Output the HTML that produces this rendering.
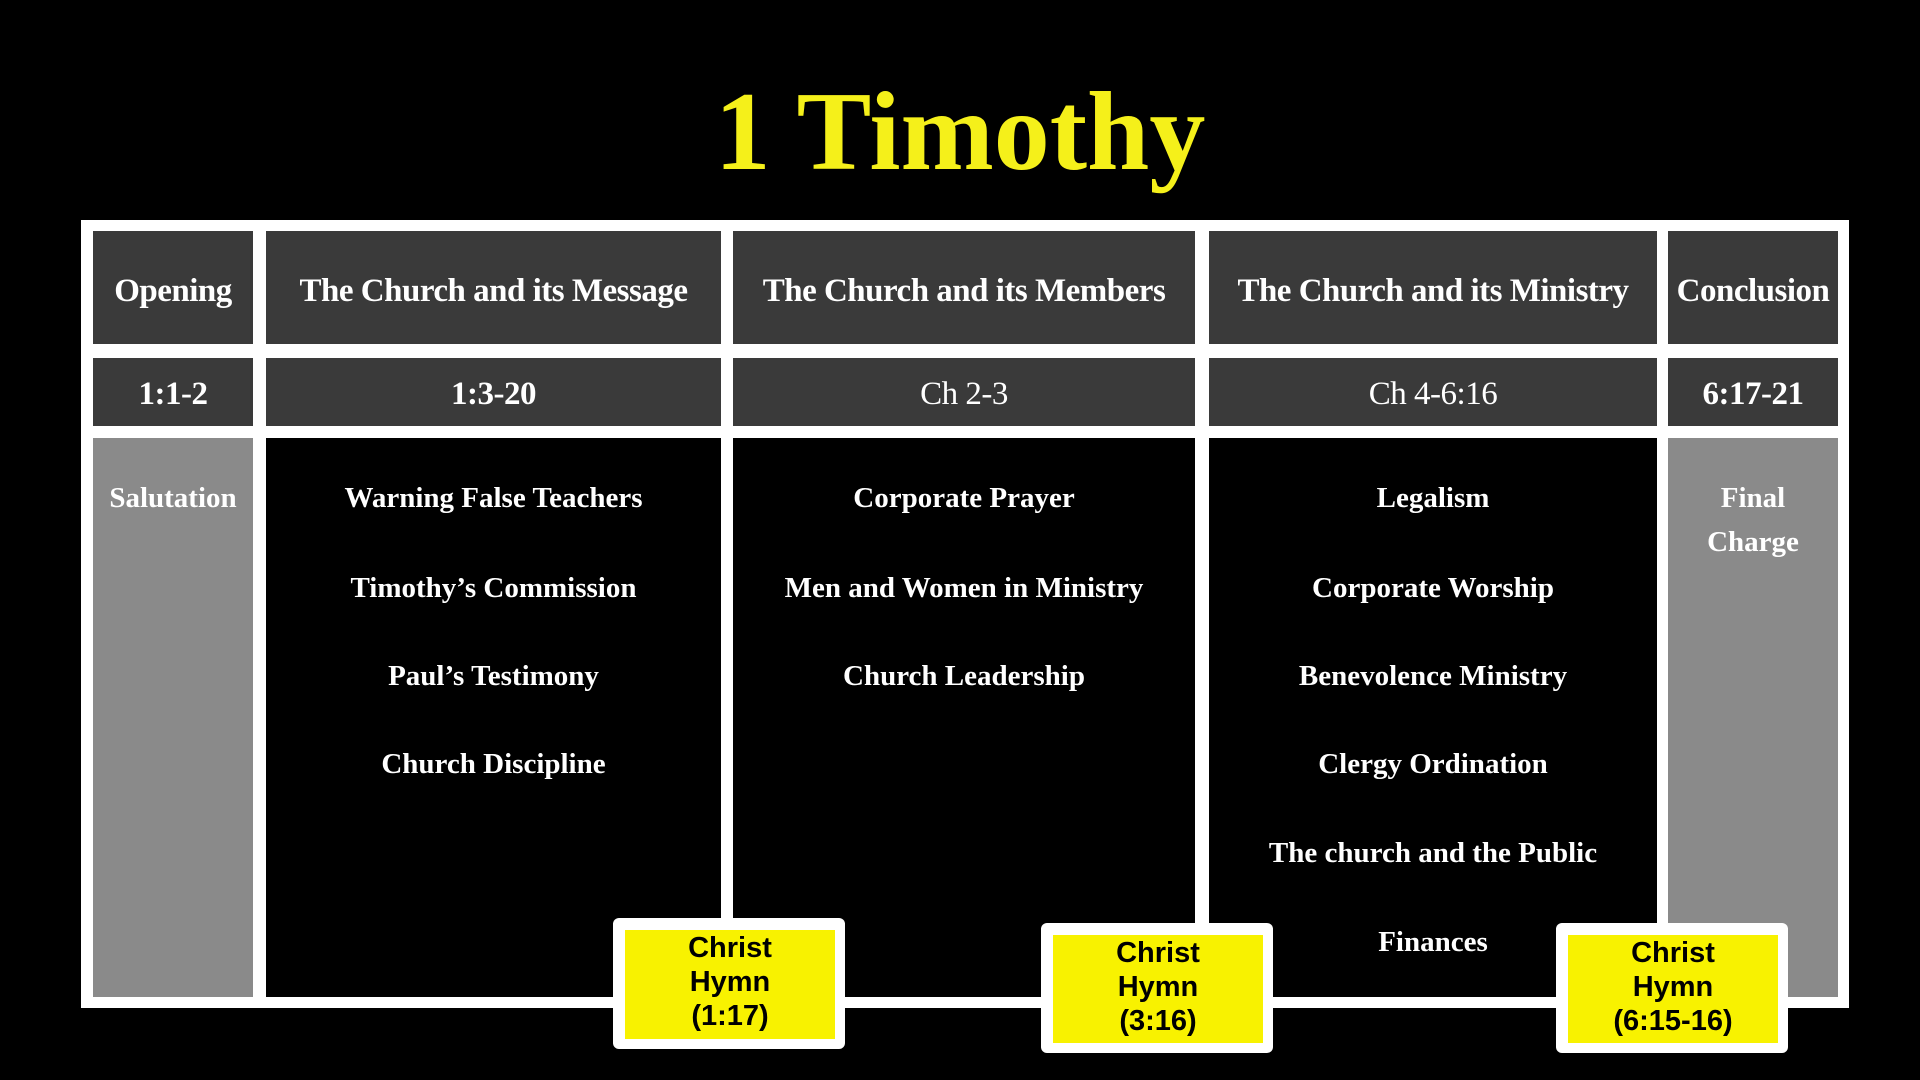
<!DOCTYPE html>
<html><head><meta charset="utf-8"><style>
body{margin:0;width:1920px;height:1080px;background:#000;position:relative;overflow:hidden;font-family:"Liberation Serif",serif;}
.t{position:absolute;left:0;width:1920px;top:72px;text-align:center;color:#f5f01a;font-weight:bold;font-size:112px;line-height:120px;}
.frame{position:absolute;left:81px;top:220px;width:1768px;height:788px;background:#fff;}
.c{position:absolute;box-sizing:border-box;color:#fff;font-weight:bold;text-align:center;white-space:nowrap;}
.h{background:#3a3a3a;font-size:33px;display:flex;align-items:center;justify-content:center;letter-spacing:-0.5px;padding-top:8px;}
.b{background:#000;font-size:29px;}
.g{background:#8a8a8a;font-size:29px;}
.b div,.g div{position:absolute;left:0;width:100%;line-height:36px;}
.hy{position:absolute;background:#fff;border-radius:6px;}
.hy div{position:absolute;left:12px;top:12px;right:10px;bottom:10px;background:#f8f200;color:#000;font-family:"Liberation Sans",sans-serif;font-weight:bold;font-size:29px;line-height:34px;text-align:center;padding-top:1px;box-sizing:border-box;}
</style></head><body>
<div class="t">1 Timothy</div>
<div class="frame"></div>
<div class="c h" style="left:93px;top:231px;width:160px;height:113px">Opening</div>
<div class="c h" style="left:266px;top:231px;width:455px;height:113px">The Church and its Message</div>
<div class="c h" style="left:733px;top:231px;width:462px;height:113px">The Church and its Members</div>
<div class="c h" style="left:1209px;top:231px;width:448px;height:113px">The Church and its Ministry</div>
<div class="c h" style="left:1668px;top:231px;width:170px;height:113px">Conclusion</div>
<div class="c h" style="left:93px;top:358px;width:160px;height:68px;padding-top:4px">1:1-2</div>
<div class="c h" style="left:266px;top:358px;width:455px;height:68px;padding-top:4px">1:3-20</div>
<div class="c h" style="left:733px;top:358px;width:462px;height:68px;padding-top:4px;font-weight:normal">Ch 2-3</div>
<div class="c h" style="left:1209px;top:358px;width:448px;height:68px;padding-top:4px;font-weight:normal">Ch 4-6:16</div>
<div class="c h" style="left:1668px;top:358px;width:170px;height:68px;padding-top:4px">6:17-21</div>
<div class="c g" style="left:93px;top:438px;width:160px;height:559px"><div style="top:42px">Salutation</div></div>
<div class="c b" style="left:266px;top:438px;width:455px;height:559px">
<div style="top:42px">Warning False Teachers</div><div style="top:132px">Timothy’s Commission</div><div style="top:220px">Paul’s Testimony</div><div style="top:308px">Church Discipline</div></div>
<div class="c b" style="left:733px;top:438px;width:462px;height:559px">
<div style="top:42px">Corporate Prayer</div><div style="top:132px">Men and Women in Ministry</div><div style="top:220px">Church Leadership</div></div>
<div class="c b" style="left:1209px;top:438px;width:448px;height:559px">
<div style="top:42px">Legalism</div><div style="top:132px">Corporate Worship</div><div style="top:220px">Benevolence Ministry</div><div style="top:308px">Clergy Ordination</div><div style="top:397px">The church and the Public</div><div style="top:486px">Finances</div></div>
<div class="c g" style="left:1668px;top:438px;width:170px;height:559px"><div style="top:42px">Final</div><div style="top:86px">Charge</div></div>
<div class="hy" style="left:613px;top:918px;width:232px;height:131px"><div>Christ<br>Hymn<br>(1:17)</div></div>
<div class="hy" style="left:1041px;top:923px;width:232px;height:130px"><div>Christ<br>Hymn<br>(3:16)</div></div>
<div class="hy" style="left:1556px;top:923px;width:232px;height:130px"><div>Christ<br>Hymn<br>(6:15-16)</div></div>
</body></html>
